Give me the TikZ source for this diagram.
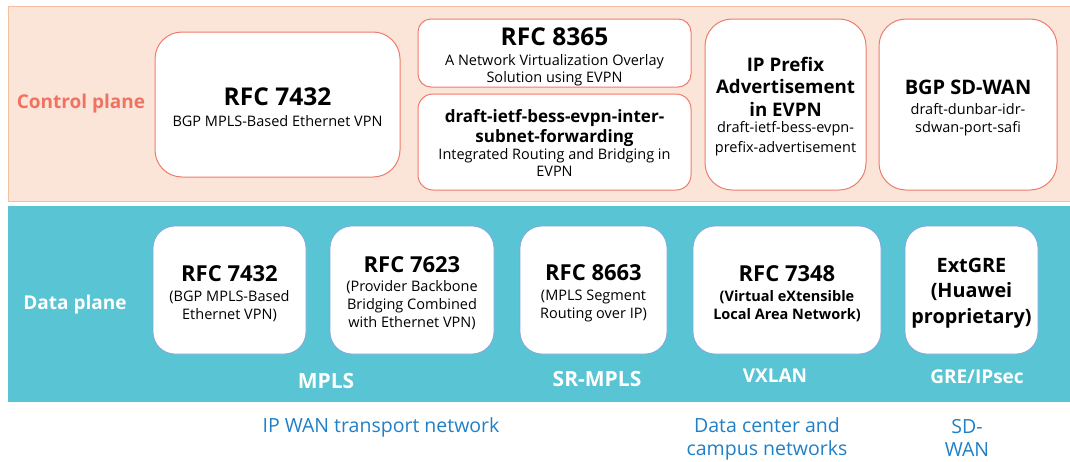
\documentclass[tikz,border=0pt]{standalone}
\usepackage{fontspec}
\setmainfont{Open Sans}
\definecolor{cpeach}{HTML}{FBE5D8}
\definecolor{cpeachline}{HTML}{F5BFA0}
\definecolor{cred}{HTML}{EE7B6B}
\definecolor{ctext}{HTML}{F07362}
\definecolor{dteal}{HTML}{59C4D3}
\definecolor{dblue}{HTML}{7FA6DE}
\definecolor{nblue}{HTML}{1F7FC7}
\newcommand\Tbig{\bfseries\fontsize{24.5}{24.5}\selectfont}
\newcommand\Tmid{\bfseries\fontsize{20}{20}\selectfont}
\newcommand\Tpre{\bfseries\fontsize{18.7}{18.7}\selectfont}
\newcommand\Tgre{\bfseries\fontsize{19.8}{19.8}\selectfont}
\newcommand\Tsm{\bfseries\fontsize{17}{17}\selectfont}
\newcommand\Tdat{\bfseries\fontsize{22}{22}\selectfont}
\begin{document}
\begin{tikzpicture}[x=1pt,y=-1pt,
  cband/.style={fill=cpeach, draw=cpeachline, line width=1pt},
  dband/.style={fill=dteal},
  cbox/.style={draw=cred, fill=white, line width=1pt, inner sep=0pt},
  dbox/.style={draw=dblue, fill=white, line width=0.8pt, inner sep=0pt,
     rounded corners=22pt, minimum height=128pt},
  btxt/.style={inner sep=0pt, align=center, font=\fontsize{14.5}{18}\selectfont},
  plbl/.style={font=\bfseries\fontsize{19}{22}\selectfont},
  tlbl/.style={text=white, font=\bfseries\fontsize{19}{22}\selectfont},
  tlblb/.style={text=white, font=\bfseries\fontsize{21}{22}\selectfont},
  blbl/.style={text=nblue, inner sep=0pt, font=\fontsize{19.5}{23}\selectfont, align=center}]
\useasboundingbox (0,0) rectangle (1070,461);
% bands
\draw[cband] (8,6) rectangle (1080,201);
\fill[dband] (8,205.5) rectangle (1070,401.5);
% plane labels
\node[plbl, text=ctext] (cpl) at (81,104) {Control plane};
\node[plbl, text=white] (dpl) at (75,305) {Data plane};
% control boxes
\node[cbox, minimum width=245pt, minimum height=145pt, rounded corners=27pt] (c1) at (277.5,104.5) {};
\node[cbox, minimum width=273pt, minimum height=68pt, rounded corners=13pt] (c2) at (554.5,53) {};
\node[cbox, minimum width=273pt, minimum height=96pt, rounded corners=15pt] (c3) at (554.5,142) {};
\node[cbox, minimum width=161pt, minimum height=171pt, rounded corners=27pt] (c4) at (785.5,104.5) {};
\node[cbox, minimum width=178pt, minimum height=171pt, rounded corners=27pt] (c5) at (968,104.5) {};
\node[btxt] (c1t) at (277.5,107)
  {{\Tbig RFC 7432}\\[2.5pt] BGP MPLS-Based Ethernet VPN};
\node[btxt] (c2t) at (554.5,57)
  {{\Tbig RFC 8365}\\[2pt] A Network Virtualization Overlay\\[-1pt] Solution using EVPN};
\node[btxt] (c3t) at (554.5,142.5)
  {{\Tsm draft-ietf-bess-evpn-inter-}\\[2pt]{\Tsm subnet-forwarding}\\[-1pt] Integrated Routing and Bridging in\\[-1pt] EVPN};
\node[btxt] (c4t) at (785.5,106.5)
  {{\Tpre IP Prefix}\\[4.5pt]{\Tpre Advertisement}\\[4.5pt]{\Tpre in EVPN}\\[-2pt] draft-ietf-bess-evpn-\\[2pt] prefix-advertisement};
\node[btxt] (c5t) at (968,108)
  {{\Tmid BGP SD-WAN}\\[2pt] draft-dunbar-idr-\\ sdwan-port-safi};
% data boxes
\node[dbox, minimum width=153pt] (d1) at (229.5,290) {};
\node[dbox, minimum width=164pt] (d2) at (412,290) {};
\node[dbox, minimum width=147pt] (d3) at (593.5,290) {};
\node[dbox, minimum width=188pt] (d4) at (787,290) {};
\node[dbox, minimum width=133pt] (d5) at (971.5,290) {};
\node[btxt] (d1t) at (229.5,293.5)
  {{\Tdat RFC 7432}\\[1.5pt] (BGP MPLS-Based\\ Ethernet VPN)};
\node[btxt] (d2t) at (412,293.5)
  {{\Tdat RFC 7623}\\[1pt] (Provider Backbone\\ Bridging Combined\\ with Ethernet VPN)};
\node[btxt] (d3t) at (593.5,293.5)
  {{\Tdat RFC 8663}\\[1.5pt] (MPLS Segment\\ Routing over IP)};
\node[btxt] (d4t) at (787,293.5)
  {{\Tdat RFC 7348}\\[1.5pt] {\bfseries (Virtual eXtensible}\\ {\bfseries Local Area Network)}};
\node[btxt] (d5t) at (971.5,293.5)
  {{\Tgre ExtGRE}\\[7pt]{\Tgre (Huawei}\\[7pt]{\Tgre proprietary)}};
% tech labels
\node[tlblb] (t1) at (326,381) {MPLS};
\node[tlblb] (t2) at (597,379) {SR-MPLS};
\node[tlbl] (t3) at (775,376) {VXLAN};
\node[tlbl] (t4) at (977,377) {GRE/IPsec};
% network labels
\node[blbl] (n1) at (381,427.5) {IP WAN transport network};
\node[blbl] (n2) at (767,438.5) {Data center and\\ campus networks};
\node[blbl] (n3) at (967,438) {SD-\\ WAN};
\end{tikzpicture}
\end{document}
